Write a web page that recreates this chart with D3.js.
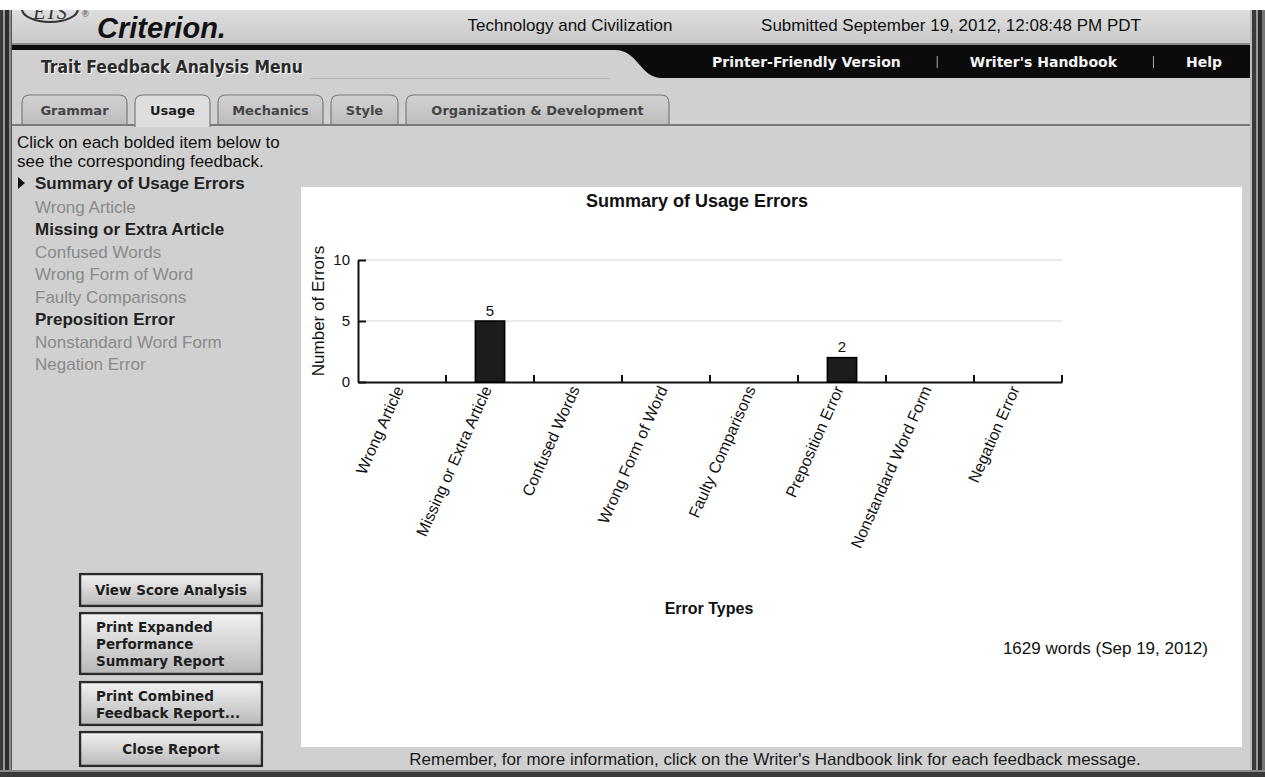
<!DOCTYPE html>
<html>
<head>
<meta charset="utf-8">
<script src="https://d3js.org/d3.v7.min.js"></script>
<style>
  body { margin: 0; background: #fff; overflow: hidden; }
  svg { display: block; }
</style>
</head>
<body>
<div id="page"></div>
<script>
// chart data
const categories = ["Wrong Article", "Missing or Extra Article", "Confused Words", "Wrong Form of Word",
    "Faulty Comparisons", "Preposition Error", "Nonstandard Word Form", "Negation Error"];
const errorCounts = [0, 5, 0, 0, 0, 2, 0, 0];
const yTicks = [0, 5, 10];

// page text
const tabs = ["Grammar", "Usage", "Mechanics", "Style", "Organization & Development"];
const tabWidths = [105, 75, 105, 67, 263];
const activeTab = "Usage";
const navLinks = ["Printer-Friendly Version", "Writer's Handbook", "Help"];
const buttons = [["View Score Analysis"], ["Print Expanded", "Performance", "Summary Report"],
    ["Print Combined", "Feedback Report..."], ["Close Report"]];

const W = 1265, H = 777;
const arial = "'Liberation Sans', Arial, sans-serif";
const verdana = "'DejaVu Sans', Verdana, sans-serif";

const svg = d3.select("#page").append("svg")
    .attr("width", W)
    .attr("height", H);

const defs = svg.append("defs");
const btnGrad = defs.append("linearGradient").attr("id", "btnGrad").attr("x1", 0).attr("x2", 0).attr("y1", 0).attr("y2", 1);
btnGrad.append("stop").attr("offset", "0%").attr("stop-color", "#f2f2f2");
btnGrad.append("stop").attr("offset", "100%").attr("stop-color", "#b8b8b8");
const tabGrad = defs.append("linearGradient").attr("id", "tabGrad").attr("x1", 0).attr("x2", 0).attr("y1", 0).attr("y2", 1);
tabGrad.append("stop").attr("offset", "0%").attr("stop-color", "#d2d2d2");
tabGrad.append("stop").attr("offset", "100%").attr("stop-color", "#bdbdbd");
const headGrad = defs.append("linearGradient").attr("id", "headGrad").attr("x1", 0).attr("x2", 0).attr("y1", 0).attr("y2", 1);
headGrad.append("stop").attr("offset", "0%").attr("stop-color", "#dedede");
headGrad.append("stop").attr("offset", "100%").attr("stop-color", "#c8c8c8");

// background
svg.append("rect").attr("x", 0).attr("y", 10).attr("width", W).attr("height", H - 10).attr("fill", "#d0d0d0");
svg.append("rect").attr("x", 0).attr("y", 10).attr("width", W).attr("height", 34).attr("fill", "url(#headGrad)");

// ETS logo, cut by the top edge
svg.append("ellipse").attr("cx", 50).attr("cy", 9).attr("rx", 28).attr("ry", 13)
    .attr("fill", "none").attr("stroke", "#333").attr("stroke-width", 2);
svg.append("text").attr("x", 50).attr("y", 19).attr("text-anchor", "middle")
    .style("font", "italic 20px 'Liberation Serif', serif").attr("fill", "#333").text("ETS");
svg.append("text").attr("x", 82).attr("y", 17)
    .style("font", "9px " + arial).attr("fill", "#333").text("®");
svg.append("rect").attr("x", 0).attr("y", 0).attr("width", W).attr("height", 10).attr("fill", "#fff");

svg.append("text").attr("x", 97).attr("y", 38)
    .style("font", "italic bold 29px " + arial).attr("fill", "#111").text("Criterion.");

svg.append("text").attr("x", 570).attr("y", 25).attr("dy", "0.35em").attr("text-anchor", "middle")
    .style("font", "17px " + arial).attr("fill", "#111").text("Technology and Civilization");
svg.append("text").attr("x", 951).attr("y", 25).attr("dy", "0.35em").attr("text-anchor", "middle")
    .style("font", "17px " + arial).attr("fill", "#111").text("Submitted September 19, 2012, 12:08:48 PM PDT");

svg.append("rect").attr("x", 0).attr("y", 43).attr("width", W).attr("height", 2).attr("fill", "#8a8a8a");

// black nav band
svg.append("path")
    .attr("d", "M0,45 L1250,45 L1250,78 L662,78 C640,78 638,50 615,50 L0,50 Z")
    .attr("fill", "#0b0b0b");

// nav links laid out from the right
let nx = 1222;
const navG = svg.append("g").style("font", "bold 14px " + verdana).attr("fill", "#f4f4f4");
navLinks.slice().reverse().forEach((t, i) => {
    const txt = navG.append("text").attr("x", nx).attr("y", 62).attr("dy", "0.35em")
        .attr("text-anchor", "end").text(t);
    const w = txt.node().getComputedTextLength();
    nx -= w;
    if (i < navLinks.length - 1) {
        nx -= 33;
        navG.append("rect").attr("x", nx).attr("y", 56).attr("width", 1).attr("height", 12).attr("fill", "#aaa");
        nx -= 36;
    }
});

const menuFont = "bold 17.4px 'DejaVu Sans Condensed', 'DejaVu Sans', sans-serif";
svg.append("text").attr("x", 41).attr("y", 67).attr("dy", "0.35em")
    .style("font", menuFont).style("font-stretch", "condensed")
    .attr("fill", "#fff").attr("transform", "translate(1,1)").text("Trait Feedback Analysis Menu");
svg.append("text").attr("x", 41).attr("y", 67).attr("dy", "0.35em")
    .style("font", menuFont).style("font-stretch", "condensed")
    .attr("fill", "#2a2a2a").text("Trait Feedback Analysis Menu");
svg.append("rect").attr("x", 310).attr("y", 78).attr("width", 300).attr("height", 1).attr("fill", "#b8b8b8");

// tabs
svg.append("rect").attr("x", 12).attr("y", 124).attr("width", 1238).attr("height", 2).attr("fill", "#7a7a7a");
let tx = 22;
tabs.forEach((t, i) => {
    const w = tabWidths[i];
    const g = svg.append("g");
    const bottom = t === activeTab ? 127 : 124;
    g.append("path")
        .attr("d", `M${tx},${bottom} L${tx},${103} Q${tx},95 ${tx + 8},95 L${tx + w - 8},95 Q${tx + w},95 ${tx + w},103 L${tx + w},${bottom}`)
        .attr("fill", t === activeTab ? "#dedede" : "url(#tabGrad)")
        .attr("stroke", "#7a7a7a").attr("stroke-width", 1.2);
    g.append("text").attr("x", tx + w / 2).attr("y", 110).attr("dy", "0.35em").attr("text-anchor", "middle")
        .style("font", "bold 13px " + verdana)
        .attr("fill", t === activeTab ? "#1e1e1e" : "#444").text(t);
    tx += w + 8;
});

// left menu
const menu = svg.append("g").style("font", "17px " + arial);
menu.append("text").attr("x", 17).attr("y", 142).attr("dy", "0.35em").attr("fill", "#111").text("Click on each bolded item below to");
menu.append("text").attr("x", 17).attr("y", 161).attr("dy", "0.35em").attr("fill", "#111").text("see the corresponding feedback.");
menu.append("path").attr("d", "M18,177 L25,183 L18,189 Z").attr("fill", "#111");
menu.append("text").attr("x", 35).attr("y", 183).attr("dy", "0.35em").style("font-weight", "bold")
    .attr("fill", "#222").text("Summary of Usage Errors");
menu.selectAll("text.item")
    .data(categories)
    .join("text")
    .attr("class", "item")
    .attr("x", 35)
    .attr("y", (d, i) => 207 + i * 22.5)
    .attr("dy", "0.35em")
    .style("font-weight", (d, i) => errorCounts[i] > 0 ? "bold" : "normal")
    .attr("fill", (d, i) => errorCounts[i] > 0 ? "#222" : "#8a8a8a")
    .text(d => d);

// buttons
const btnBoxes = [[573, 34], [612, 63], [681, 45], [731, 36]];
buttons.forEach((lines, i) => {
    const [by, bh] = btnBoxes[i];
    const g = svg.append("g");
    g.append("rect").attr("x", 78).attr("y", by - 1).attr("width", 186).attr("height", bh + 2).attr("fill", "#f4f4f4");
    g.append("rect").attr("x", 80).attr("y", by + 1).attr("width", 182).attr("height", bh - 2)
        .attr("fill", "url(#btnGrad)").attr("stroke", "#2b2b2b").attr("stroke-width", 2.5);
    const centered = lines.length === 1;
    lines.forEach((l, j) => {
        g.append("text")
            .attr("x", centered ? 171 : 96)
            .attr("y", centered ? by + bh / 2 : by + 15 + j * 17)
            .attr("dy", "0.35em")
            .attr("text-anchor", centered ? "middle" : "start")
            .style("font", "bold 13.5px " + verdana)
            .attr("fill", "#1e1e1e")
            .text(l);
    });
});

// chart panel
svg.append("rect").attr("x", 301).attr("y", 187).attr("width", 941).attr("height", 560).attr("fill", "#fff");

const x = d3.scaleBand().domain(categories).range([358, 1062]);
const y = d3.scaleLinear().domain([0, 10]).range([382, 260]);
const chart = svg.append("g");

chart.append("text").attr("x", 697).attr("y", 201).attr("dy", "0.35em").attr("text-anchor", "middle")
    .style("font", "bold 18px " + arial).attr("fill", "#111").text("Summary of Usage Errors");

// gridlines
chart.selectAll("line.grid")
    .data(yTicks.filter(d => d > 0))
    .join("line")
    .attr("class", "grid")
    .attr("x1", 358).attr("x2", 1062)
    .attr("y1", d => y(d)).attr("y2", d => y(d))
    .attr("stroke", "#e2e2e2").attr("stroke-width", 1.5);

// y axis
const yAxis = chart.append("g")
    .attr("transform", "translate(358,0)")
    .call(d3.axisLeft(y).tickValues(yTicks).tickSizeInner(-8).tickSizeOuter(0).tickPadding(8));
yAxis.select(".domain").attr("stroke", "#111").attr("stroke-width", 2);
yAxis.selectAll(".tick line").attr("stroke", "#111").attr("stroke-width", 2);
yAxis.selectAll(".tick text").style("font", "15px " + arial).attr("fill", "#111");

// x axis with ticks on band boundaries
const xAxis = chart.append("g")
    .attr("transform", "translate(0,382)")
    .call(d3.axisBottom(x).tickSize(0).tickFormat(""));
xAxis.select(".domain").attr("stroke", "#111").attr("stroke-width", 2);
xAxis.selectAll("line.bound")
    .data(categories)
    .join("line")
    .attr("class", "bound")
    .attr("x1", d => x(d) + x.bandwidth()).attr("x2", d => x(d) + x.bandwidth())
    .attr("y1", 0).attr("y2", -7)
    .attr("stroke", "#111").attr("stroke-width", 2);

// bars
const data = categories.map((c, i) => ({ cat: c, value: errorCounts[i] }));
chart.selectAll("rect.bar")
    .data(data.filter(d => d.value > 0))
    .join("rect")
    .attr("class", "bar")
    .attr("x", d => x(d.cat) + x.bandwidth() / 3)
    .attr("width", x.bandwidth() / 3)
    .attr("y", d => y(d.value))
    .attr("height", d => y(0) - y(d.value))
    .attr("fill", "#1c1c1c")
    .attr("stroke", "#000")
    .attr("stroke-width", 1.5);

chart.selectAll("text.val")
    .data(data.filter(d => d.value > 0))
    .join("text")
    .attr("class", "val")
    .attr("x", d => x(d.cat) + x.bandwidth() / 2)
    .attr("y", d => y(d.value) - 10.5)
    .attr("dy", "0.35em")
    .attr("text-anchor", "middle")
    .style("font", "15px " + arial)
    .attr("fill", "#111")
    .text(d => d.value);

// rotated category labels
chart.selectAll("text.cat")
    .data(categories)
    .join("text")
    .attr("class", "cat")
    .attr("transform", d => `translate(${x(d) + x.bandwidth() / 2 + 2},389) rotate(-66)`)
    .attr("text-anchor", "end")
    .style("font", "16px " + arial)
    .attr("fill", "#111")
    .text(d => d);

chart.append("text")
    .attr("transform", "translate(318,311) rotate(-90)")
    .attr("dy", "0.35em")
    .attr("text-anchor", "middle")
    .style("font", "17px " + arial)
    .attr("fill", "#111")
    .text("Number of Errors");

chart.append("text").attr("x", 709).attr("y", 608).attr("dy", "0.35em").attr("text-anchor", "middle")
    .style("font", "bold 16px " + arial).attr("fill", "#111").text("Error Types");

chart.append("text").attr("x", 1208).attr("y", 648).attr("dy", "0.35em").attr("text-anchor", "end")
    .style("font", "17px " + arial).attr("fill", "#111").text("1629 words (Sep 19, 2012)");

svg.append("text").attr("x", 775).attr("y", 759).attr("dy", "0.35em").attr("text-anchor", "middle")
    .style("font", "17px " + arial).attr("fill", "#1a1a1a")
    .text("Remember, for more information, click on the Writer's Handbook link for each feedback message.");

// window frame borders
const leftStripes = [[0, 3, "#3a3a3a"], [3, 2, "#9a9a9a"], [5, 4, "#2e2e2e"], [9, 2, "#8c8c8c"], [11, 1, "#555"]];
const rightStripes = [[1250, 2, "#bdbdbd"], [1252, 4, "#3a3a3a"], [1256, 2, "#9a9a9a"], [1258, 4, "#2e2e2e"], [1262, 3, "#777"]];
svg.selectAll("rect.frame")
    .data(leftStripes.concat(rightStripes))
    .join("rect")
    .attr("class", "frame")
    .attr("x", d => d[0]).attr("y", 10)
    .attr("width", d => d[1]).attr("height", H - 10)
    .attr("fill", d => d[2]);
svg.append("rect").attr("x", 0).attr("y", 770).attr("width", W).attr("height", 2).attr("fill", "#8a8a8a");
svg.append("rect").attr("x", 0).attr("y", 772).attr("width", W).attr("height", 5).attr("fill", "#3a3a3a");
</script>
</body>
</html>
